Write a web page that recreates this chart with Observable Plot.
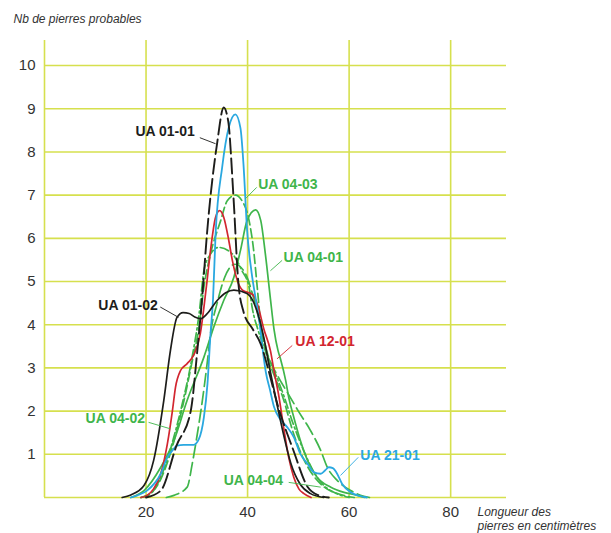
<!DOCTYPE html>
<html><head><meta charset="utf-8">
<script src="https://cdn.jsdelivr.net/npm/d3@7"></script>
<script src="https://cdn.jsdelivr.net/npm/@observablehq/plot@0.6"></script>
<style>
body{margin:0;background:#fff;font-family:"Liberation Sans",Arial,sans-serif;}
svg{display:block;overflow:visible}
</style>
</head><body><div id="chart"></div>
<script>
// ---- tick values ----
const xTicks = [20, 40, 60, 80];
const yTicks = [1, 2, 3, 4, 5, 6, 7, 8, 9, 10];
const yTitle = "Nb de pierres probables";
const xTitle = "Longueur des\npierres en centimètres";

// ---- series: [longueur (cm), nb de pierres probables] ----
const ua0101 = [[20,0],[22.9,0.16],[26,1.2],[28.8,2.0],[30.1,3.4],[31.1,4.7],[32,6.1],[34,8.2],[35.3,9.03],[36.2,8.7],[37.2,7.0],[38.2,4.95],[39.2,4.3],[41,3.9],[42.6,3.55],[44,3.0],[45.9,2.15],[49,1.1],[51.8,0.25],[54,0.05],[56,0]];
const ua0102 = [[15.3,0],[17,0.06],[19.6,0.28],[21.5,0.86],[23.5,2.25],[24.8,3.4],[26.1,4.17],[27.3,4.28],[28.5,4.26],[29.6,4.18],[30.7,4.14],[32,4.25],[34,4.56],[35.7,4.74],[37.3,4.8],[39.9,4.72],[41.9,4.3],[43.2,3.7],[44.5,2.9],[45.9,2.1],[47.2,1.4],[48.5,0.8],[50.4,0.3],[52.4,0.09],[55,0]];
const ua2101 = [[17,0],[18.3,0.05],[20.2,0.16],[22.9,0.55],[24.2,0.93],[25.2,1.09],[26.1,1.2],[27.4,1.22],[29.4,1.22],[30.4,1.35],[31.4,1.86],[32.1,2.63],[32.7,3.79],[33.2,4.6],[33.7,6.1],[35,7.65],[36.3,8.57],[37.6,8.87],[38.6,8.55],[39.2,7.7],[39.9,6.2],[40.8,5.2],[41.6,4.6],[42.4,4.0],[43,3.4],[43.6,2.9],[44.4,2.5],[45.2,2.1],[46.5,1.8],[47.8,1.63],[49.1,1.4],[50.4,1.01],[51.8,0.78],[53.1,0.58],[54.4,0.55],[55.3,0.63],[56,0.7],[56.8,0.68],[57.5,0.58],[58.6,0.32],[60.3,0.12],[62,0.04],[63.5,0]];
const ua1201 = [[19,0],[20.2,0.05],[21.5,0.2],[22.9,0.55],[24.2,1.24],[25.2,2.01],[25.8,2.55],[26.8,2.94],[28.1,3.1],[29.4,3.3],[30.7,3.8],[31.5,4.5],[32.1,5.1],[32.7,5.72],[33.7,6.49],[34.5,6.64],[35.3,6.49],[36.3,5.95],[37,5.49],[38,5.02],[39,4.8],[40,4.75],[41,4.7],[42,4.45],[43.2,3.9],[44.5,3.4],[45.2,2.94],[46.2,2.32],[47.2,1.55],[48.1,0.93],[49.1,0.47],[50.1,0.2],[51.1,0.09],[52.5,0]];
const ua0401 = [[17,0],[19.6,0.16],[22.9,0.7],[25.5,1.32],[28.1,2.25],[31.4,3.25],[33.5,4.0],[35.3,4.56],[37.3,5.1],[38.6,5.72],[39.9,6.41],[41.6,6.66],[42.6,6.41],[43.5,5.64],[44.5,4.6],[45.2,3.9],[46,3.4],[46.5,3.2],[47.5,2.71],[48.1,2.32],[49.1,1.86],[50.4,1.32],[51.8,0.86],[53.7,0.47],[56.4,0.24],[59,0.12],[61.6,0.05],[63,0]];
const ua0403 = [[19,0],[21,0.1],[23,0.45],[25,1.1],[27,2.0],[29,3.1],[30.5,4.0],[31.4,4.87],[32.7,5.64],[34.7,6.41],[36,6.87],[37.6,7.0],[38.9,6.87],[40.3,6.41],[41.2,5.72],[41.9,4.87],[42.6,4.0],[43.5,3.4],[45,2.9],[47,2.3],[49,1.5],[51,0.9],[53,0.5],[55,0.25],[58,0.08],[61,0]];
const ua0404 = [[19,0],[21,0.1],[23,0.5],[25,1.2],[27,2.1],[29,3.2],[30.5,4.3],[31.4,5.25],[32.5,5.6],[34.3,5.79],[37,5.64],[38.9,5.25],[40.3,4.87],[40.9,4.4],[42,3.9],[43.5,3.4],[45,3.0],[47,2.4],[49,1.7],[51,1.1],[53,0.6],[55,0.28],[57,0.12],[60,0]];
const ua0402 = [[24,0],[25.5,0.05],[28.1,0.24],[29.1,0.78],[30.1,1.47],[31.1,2.25],[32.1,3.17],[32.7,3.79],[34,4.5],[35.5,5.1],[37.5,5.4],[39.5,5.2],[41,4.7],[42.5,4.0],[44,3.3],[46,2.8],[48,2.4],[50,2.0],[52.4,1.55],[54.4,1.09],[55.7,0.7],[57.7,0.39],[60.3,0.16],[62.9,0.03],[64,0]];

// ---- labels: name, text position, leader line end-points (data units) ----
const labelNames = ["UA 01-01","UA 04-03","UA 04-01","UA 01-02","UA 12-01","UA 04-02","UA 04-04","UA 21-01"];
const labelX  = [17.9, 42.1, 47.1, 10.6, 49.4, 8.1, 35.3, 62.2];
const labelY  = [8.47, 7.25, 5.56, 4.44, 3.61, 1.83, 0.39, 0.97];
const leadX1 = [30.6, 41.8, 46.8, 22.8, 48.8, 20.5, 48.1, 61.8];
const leadY1 = [8.33, 7.18, 5.49, 4.41, 3.52, 1.74, 0.35, 0.93];
const leadX2 = [33.7, 39.6, 44.5, 26.4, 45.8, 24.8, 54.4, 58.3];
const leadY2 = [8.19, 6.92, 5.25, 4.17, 3.21, 1.59, 0.24, 0.51];

// ---- styles ----
const BLACK = "#1d1d1b", BLUE = "#2aa8e0", RED = "#d22630", GREEN = "#3fb54b", GRID = "#d6e04e";
const labelColors = [BLACK, GREEN, GREEN, BLACK, RED, GREEN, GREEN, BLUE];
const series = [
  {data: ua0402, stroke: GREEN, dash: "13,5", w: 1.7},
  {data: ua0404, stroke: GREEN, dash: "9,3,2,3", w: 1.7},
  {data: ua0403, stroke: GREEN, dash: "9,4", w: 1.7},
  {data: ua0401, stroke: GREEN, dash: null, w: 1.7},
  {data: ua1201, stroke: RED, dash: null, w: 1.7},
  {data: ua2101, stroke: BLUE, dash: null, w: 1.8},
  {data: ua0102, stroke: BLACK, dash: null, w: 1.7},
  {data: ua0101, stroke: BLACK, dash: "15,5", w: 1.9}
];

const labels = labelNames.map((t, i) => ({t, x: labelX[i], y: labelY[i], x1: leadX1[i], y1: leadY1[i], x2: leadX2[i], y2: leadY2[i], c: labelColors[i]}));

const plot = Plot.plot({
  width: 611, height: 533,
  marginLeft: 44, marginRight: 105, marginTop: 40, marginBottom: 36,
  style: {fontFamily: '"Liberation Sans", Arial, sans-serif', background: "#fff", overflow: "visible"},
  x: {domain: [0, 91], axis: null},
  y: {domain: [0, 10.58], axis: null},
  marks: [
    Plot.ruleY([0, ...yTicks], {stroke: GRID, strokeWidth: 1.6}),
    Plot.ruleX([0, ...xTicks], {stroke: GRID, strokeWidth: 1.6}),
    Plot.axisY(yTicks, {tickSize: 0, tickPadding: 9, fontSize: 15, fill: "#333", label: null}),
    Plot.axisX(xTicks, {tickSize: 0, tickPadding: 9, fontSize: 15, fill: "#333", label: null}),
    ...series.map(s => Plot.line(s.data, {x: d => d[0], y: d => d[1], stroke: s.stroke, strokeWidth: s.w, strokeDasharray: s.dash, curve: "monotone-x"})),
    Plot.link(labels, {x1: "x1", y1: "y1", x2: "x2", y2: "y2", stroke: "c", strokeWidth: 0.9}),
    Plot.text(labels, {x: "x", y: "y", text: "t", fill: "c", textAnchor: "start", lineAnchor: "middle", fontWeight: "bold", fontSize: 14}),
    Plot.text([yTitle], {frameAnchor: "top-left", dx: -31, dy: -26, textAnchor: "start", lineAnchor: "top", fontStyle: "italic", fontSize: 12, fill: "#333"}),
    Plot.text([xTitle], {frameAnchor: "bottom-left", dx: 433, dy: 8, textAnchor: "start", lineAnchor: "top", fontStyle: "italic", fontSize: 12, lineHeight: 1.2, fill: "#333"})
  ]
});
document.getElementById("chart").appendChild(plot);
</script>
</body></html>
